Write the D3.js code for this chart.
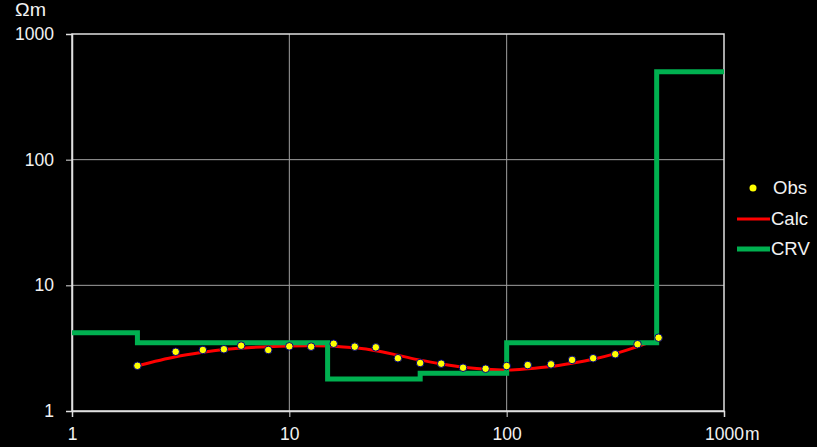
<!DOCTYPE html>
<html>
<head>
<meta charset="utf-8">
<script src="https://cdn.jsdelivr.net/npm/d3@7/dist/d3.min.js"></script>
<style>
  html, body { margin: 0; padding: 0; background: #000; }
  svg { display: block; }
  text { font-family: "Liberation Sans", Arial, sans-serif; fill: #f2f2f2; }
</style>
</head>
<body>
<svg id="chart" width="817" height="447"></svg>
<script>
// Electrode spacing (m) of the sounding readings
const obsSpacing = [2, 3, 4, 5, 6, 8, 10, 12.6, 16, 20, 25, 31.6, 40, 50, 63, 80, 100, 125, 160, 200, 250, 316, 400, 500];
// Observed apparent resistivity (Ωm)
const obsRho = [2.29, 2.96, 3.06, 3.10, 3.31, 3.06, 3.27, 3.25, 3.43, 3.25, 3.21, 2.63, 2.41, 2.38, 2.21, 2.17, 2.28, 2.32, 2.35, 2.55, 2.63, 2.83, 3.40, 3.83];

// Calculated apparent resistivity curve
const calcSpacing = [2, 3, 4, 5, 6, 8, 10, 12.6, 16, 20, 25, 31.6, 40, 50, 63, 80, 100, 125, 160, 200, 250, 316, 400, 440];
const calcRho = [2.29, 2.70, 2.93, 3.08, 3.17, 3.25, 3.29, 3.30, 3.28, 3.18, 3.02, 2.78, 2.54, 2.37, 2.23, 2.15, 2.12, 2.17, 2.26, 2.40, 2.58, 2.86, 3.25, 3.45];

// Layered model (CRV): layer boundaries and resistivities
const crvDepth = [1, 2, 15, 40, 100, 490, 1000];
const crvRho = [4.2, 3.5, 1.8, 2.0, 3.5, 500];

const xTicks = [1, 10, 100, 1000];
const yTicks = [1, 10, 100, 1000];
const legendItems = ["Obs", "Calc", "CRV"];

const colors = { obs: "#ffff00", obsStroke: "#000080", calc: "#ff0000", crv: "#00b050" };

const svg = d3.select("#chart");
const plot = { left: 72, right: 724, top: 34, bottom: 411 };

const x = d3.scaleLog().domain([1, 1000]).range([plot.left, plot.right]);
const y = d3.scaleLog().domain([1, 1000]).range([plot.bottom, plot.top]);

// Gridlines
const grid = svg.append("g");
grid.selectAll(".gx").data(xTicks.slice(1, -1)).join("line")
  .attr("x1", d => x(d)).attr("x2", d => x(d))
  .attr("y1", plot.top).attr("y2", plot.bottom)
  .attr("stroke", "#a0a0a0").attr("stroke-width", 1);
grid.selectAll(".gy").data(yTicks.slice(1, -1)).join("line")
  .attr("x1", plot.left).attr("x2", plot.right)
  .attr("y1", d => y(d)).attr("y2", d => y(d))
  .attr("stroke", "#a0a0a0").attr("stroke-width", 1);

// Plot frame
svg.append("rect")
  .attr("x", plot.left).attr("y", plot.top)
  .attr("width", plot.right - plot.left).attr("height", plot.bottom - plot.top)
  .attr("fill", "none").attr("stroke", "#e0e0e0").attr("stroke-width", 1.5);

// Axes
const xAxis = d3.axisBottom(x).tickValues(xTicks).tickSize(6).tickPadding(11)
  .tickFormat(d => String(d));
const yAxis = d3.axisLeft(y).tickValues(yTicks).tickSize(6).tickPadding(12)
  .tickFormat(d => String(d));

const gx = svg.append("g").attr("transform", `translate(0,${plot.bottom})`).call(xAxis);
const gy = svg.append("g").attr("transform", `translate(${plot.left},0)`).call(yAxis);
[gx, gy].forEach(g => {
  g.select(".domain").attr("stroke", "#e0e0e0").attr("stroke-width", 1.5);
  g.selectAll(".tick line").attr("stroke", "#e0e0e0");
  g.selectAll(".tick text").attr("font-size", 17.5).attr("fill", "#f2f2f2")
    .style("font-family", "'Liberation Sans', Arial, sans-serif");
});
gx.selectAll(".tick text").attr("dy", "0.71em");

// Unit suffix after the last distance label
svg.append("text")
  .attr("x", x(1000) + 21).attr("y", plot.bottom + 6 + 11)
  .attr("dy", "0.71em").attr("font-size", 17.5).text("m");

svg.append("text").attr("x", 15).attr("y", 16).attr("font-size", 17.5)
  .attr("textLength", 31).attr("lengthAdjust", "spacingAndGlyphs").text("Ωm");

// Calculated curve
const calcData = calcSpacing.map((s, i) => [s, calcRho[i]]);
svg.append("path")
  .datum(calcData)
  .attr("fill", "none")
  .attr("stroke", colors.calc)
  .attr("stroke-width", 3)
  .attr("d", d3.line().x(d => x(d[0])).y(d => y(d[1])).curve(d3.curveCatmullRom));

// Layered model step line
const crvData = crvRho.map((r, i) => [crvDepth[i], r]);
crvData.push([crvDepth[crvDepth.length - 1], crvRho[crvRho.length - 1]]);
svg.append("path")
  .datum(crvData)
  .attr("fill", "none")
  .attr("stroke", colors.crv)
  .attr("stroke-width", 5)
  .attr("d", d3.line().x(d => x(d[0])).y(d => y(d[1])).curve(d3.curveStepAfter));

// Observed points
svg.append("g").selectAll("circle")
  .data(obsSpacing.map((s, i) => [s, obsRho[i]]))
  .join("circle")
  .attr("cx", d => x(d[0])).attr("cy", d => y(d[1]))
  .attr("r", 3.8)
  .attr("fill", colors.obs)
  .attr("stroke", colors.obsStroke).attr("stroke-width", 1);

// Legend
const lg = svg.append("g");
const ly = [188, 219, 249];
lg.append("circle").attr("cx", 753).attr("cy", ly[0]).attr("r", 3.5).attr("fill", colors.obs);
lg.append("line").attr("x1", 737).attr("x2", 770).attr("y1", ly[1]).attr("y2", ly[1])
  .attr("stroke", colors.calc).attr("stroke-width", 3);
lg.append("line").attr("x1", 737).attr("x2", 770).attr("y1", ly[2]).attr("y2", ly[2])
  .attr("stroke", colors.crv).attr("stroke-width", 5);
lg.selectAll("text").data(legendItems).join("text")
  .attr("x", (d, i) => i === 0 ? 773 : 771)
  .attr("y", (d, i) => ly[i])
  .attr("dy", "0.35em")
  .attr("font-size", 18.5)
  .text(d => d);
</script>
</body>
</html>
